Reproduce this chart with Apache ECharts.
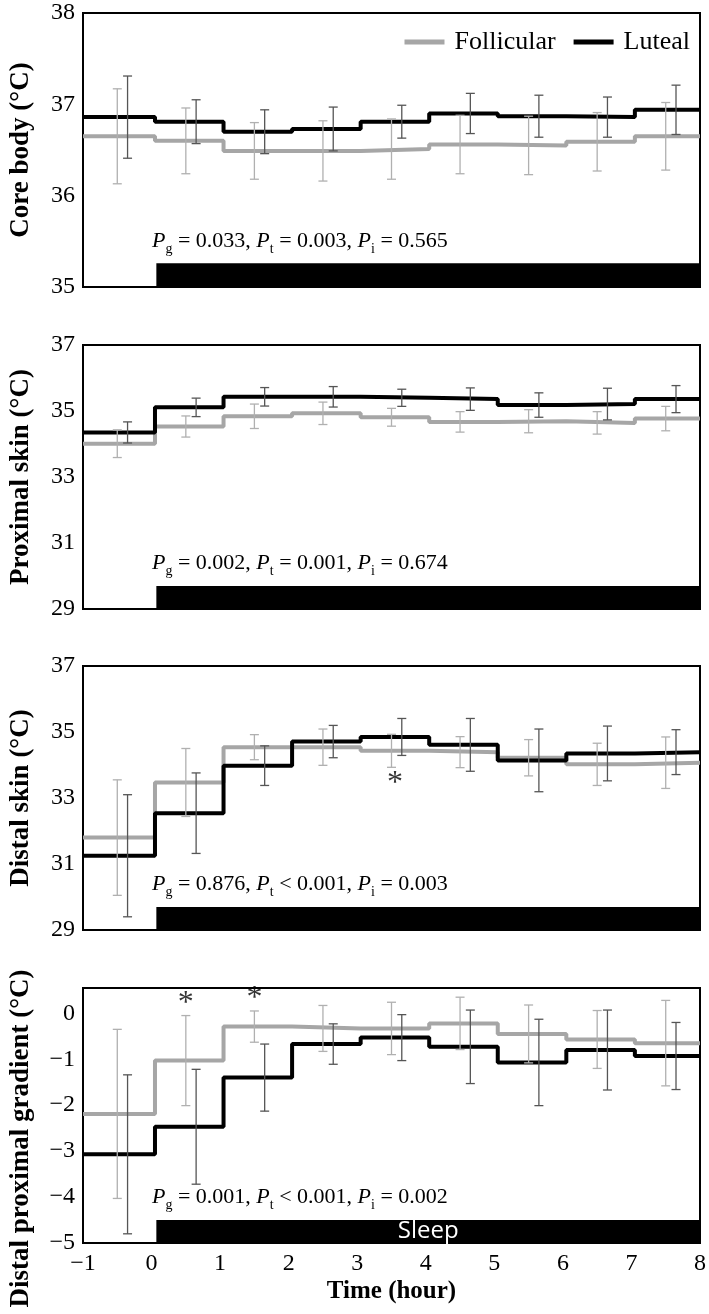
<!DOCTYPE html>
<html>
<head>
<meta charset="utf-8">
<script src="https://cdn.jsdelivr.net/npm/echarts@6/dist/echarts.min.js"></script>
<style>
html,body{margin:0;padding:0;background:#fff;}
#chart{width:709px;height:1314px;}
</style>
</head>
<body>
<div id="chart"></div>
<script>
// ---- data ----
const seriesNames = ['Follicular', 'Luteal'];
const stepStarts = [-1, 0.05, 1.05, 2.05, 3.05, 4.05, 5.05, 6.05, 7.05];
const stepEnd = 8;
const follErrX = [-0.5, 0.5, 1.5, 2.5, 3.5, 4.5, 5.5, 6.5, 7.5];
const lutErrX = [-0.35, 0.65, 1.65, 2.65, 3.65, 4.65, 5.65, 6.65, 7.65];
const sleepStart = 0.07;
const sleepEnd = 8;

const panelNames = ['Core body (°C)', 'Proximal skin (°C)', 'Distal skin (°C)', 'Distal proximal gradient (°C)'];
const yMin = [35, 29, 29, -5];
const yMax = [38, 37, 37, 0.55];
const yInterval = [1, 2, 2, 1];
const sleepTop = [35.26, 29.7, 29.7, -4.5];

const coreFol = [36.65, 36.60, 36.49, 36.49, 36.51, 36.56, 36.55, 36.59, 36.65];
const coreFolErr = [0.52, 0.36, 0.31, 0.33, 0.33, 0.32, 0.32, 0.32, 0.37];
const coreLut = [36.86, 36.81, 36.70, 36.73, 36.81, 36.90, 36.87, 36.86, 36.94];
const coreLutErr = [0.45, 0.24, 0.24, 0.24, 0.18, 0.22, 0.23, 0.22, 0.27];

const proxFol = [34.01, 34.53, 34.84, 34.93, 34.81, 34.67, 34.69, 34.64, 34.77];
const proxFolErr = [0.42, 0.32, 0.37, 0.34, 0.27, 0.31, 0.35, 0.34, 0.37];
const proxLut = [34.35, 35.11, 35.43, 35.43, 35.40, 35.36, 35.18, 35.21, 35.36];
const proxLutErr = [0.32, 0.28, 0.28, 0.31, 0.26, 0.34, 0.37, 0.48, 0.41];

const distFol = [31.80, 33.47, 34.54, 34.54, 34.43, 34.39, 34.22, 34.02, 34.07];
const distFolErr = [1.75, 1.03, 0.38, 0.55, 0.50, 0.47, 0.55, 0.64, 0.78];
const distLut = [31.25, 32.54, 33.98, 34.71, 34.85, 34.61, 34.14, 34.35, 34.39];
const distLutErr = [1.85, 1.22, 0.60, 0.49, 0.56, 0.80, 0.95, 0.83, 0.68];

const gradFol = [-2.19, -1.03, -0.29, -0.33, -0.33, -0.22, -0.45, -0.57, -0.65];
const gradFolErr = [1.84, 0.98, 0.34, 0.50, 0.57, 0.57, 0.63, 0.63, 0.93];
const gradLut = [-3.07, -2.47, -1.40, -0.67, -0.53, -0.73, -1.07, -0.80, -0.93];
const gradLutErr = [1.73, 1.25, 0.73, 0.44, 0.50, 0.80, 0.94, 0.87, 0.73];

const pTexts = [
  ['g', '= 0.033, ', 't', '= 0.003, ', 'i', '= 0.565'],
  ['g', '= 0.002, ', 't', '= 0.001, ', 'i', '= 0.674'],
  ['g', '= 0.876, ', 't', '< 0.001, ', 'i', '= 0.003'],
  ['g', '= 0.001, ', 't', '< 0.001, ', 'i', '= 0.002']
];
const asterisks = [[], [], [[3.55, 33.45]], [[0.5, 0.2], [1.5, 0.31]]];
const sleepLabel = ['', '', '', 'Sleep'];

const folData = [coreFol, proxFol, distFol, gradFol];
const folErr = [coreFolErr, proxFolErr, distFolErr, gradFolErr];
const lutData = [coreLut, proxLut, distLut, gradLut];
const lutErr = [coreLutErr, proxLutErr, distLutErr, gradLutErr];

// ---- layout ----
const gridTops = [13, 345, 666, 988];
const gridHeights = [274, 264, 264, 255];
const SERIF = '"Liberation Serif", "Times New Roman", serif';
const FOL_COLOR = '#a6a6a6';
const FOL_ERR = '#b0b0b0';
const LUT_ERR = '#555555';

function fmtMinus(v) {
  if (Math.abs(v - Math.round(v)) > 1e-6) return '';
  return String(Math.round(v)).replace('-', '\u2212');
}

function stepData(vals) {
  const d = stepStarts.map((x, i) => [x, vals[i]]);
  d.push([stepEnd, vals[vals.length - 1]]);
  return d;
}
function errData(xs, vals, errs) {
  return xs.map((x, i) => [x, vals[i] - errs[i], vals[i] + errs[i]]);
}
function errRender(color) {
  return function (params, api) {
    const x = api.value(0), lo = api.value(1), hi = api.value(2);
    const p1 = api.coord([x, hi]);
    const p2 = api.coord([x, lo]);
    const w = 4.5;
    const st = { stroke: color, lineWidth: 1.3 };
    return {
      type: 'group',
      children: [
        { type: 'line', shape: { x1: p1[0], y1: p1[1], x2: p2[0], y2: p2[1] }, style: st },
        { type: 'line', shape: { x1: p1[0] - w, y1: p1[1], x2: p1[0] + w, y2: p1[1] }, style: st },
        { type: 'line', shape: { x1: p2[0] - w, y1: p2[1], x2: p2[0] + w, y2: p2[1] }, style: st }
      ]
    };
  };
}

const grids = [], xAxes = [], yAxes = [], series = [], graphics = [];
for (let k = 0; k < 4; k++) {
  grids.push({
    left: 83, right: 9, top: gridTops[k], height: gridHeights[k],
    containLabel: false, outerBoundsMode: 'none',
    show: true, borderColor: '#000', borderWidth: 2, backgroundColor: 'transparent'
  });
  const last = k === 3;
  xAxes.push({
    type: 'value', gridIndex: k, min: -1, max: 8, interval: 1,
    axisLine: { show: false }, axisTick: { show: false }, splitLine: { show: false },
    axisLabel: { show: last, formatter: fmtMinus, fontFamily: SERIF, fontSize: 24, color: '#000', margin: 9 },
    name: last ? 'Time (hour)' : '', nameLocation: 'middle', nameGap: 36,
    nameTextStyle: { fontFamily: SERIF, fontSize: 25, fontWeight: 'bold', color: '#000' }
  });
  yAxes.push({
    type: 'value', gridIndex: k, min: yMin[k], max: yMax[k], interval: yInterval[k],
    axisLine: { show: false }, axisTick: { show: false }, splitLine: { show: false },
    axisLabel: { formatter: fmtMinus, fontFamily: SERIF, fontSize: 24, color: '#000', margin: 8 },
    name: panelNames[k], nameLocation: 'middle', nameGap: 48, nameRotate: 90,
    nameTextStyle: {
      fontFamily: SERIF, fontSize: 27, fontWeight: 'bold', color: '#000',
      padding: k === 3 ? [0, 46, 0, 0] : 0
    }
  });
  series.push({
    name: seriesNames[0], type: 'line', xAxisIndex: k, yAxisIndex: k, step: 'end',
    data: stepData(folData[k]), showSymbol: false, symbol: 'none',
    lineStyle: { color: FOL_COLOR, width: 4 }, itemStyle: { color: FOL_COLOR }, z: 3,
    silent: true, animation: false
  });
  series.push({
    name: seriesNames[1], type: 'line', xAxisIndex: k, yAxisIndex: k, step: 'end',
    data: stepData(lutData[k]), showSymbol: false, symbol: 'none',
    lineStyle: { color: '#000', width: 4 }, itemStyle: { color: '#000' }, z: 4,
    silent: true, animation: false,
    markArea: {
      silent: true,
      itemStyle: { color: '#000', opacity: 1 },
      label: {
        show: true, position: 'inside', color: '#fff',
        fontFamily: '"Open Sans", "DejaVu Sans", sans-serif', fontSize: 24,
        formatter: sleepLabel[k]
      },
      data: [[{ xAxis: sleepStart, yAxis: yMin[k] }, { xAxis: sleepEnd, yAxis: sleepTop[k] }]]
    }
  });
  series.push({
    type: 'custom', xAxisIndex: k, yAxisIndex: k, renderItem: errRender(FOL_ERR),
    data: errData(follErrX, folData[k], folErr[k]), encode: { x: 0, y: [1, 2] }, z: 5,
    silent: true, animation: false
  });
  series.push({
    type: 'custom', xAxisIndex: k, yAxisIndex: k, renderItem: errRender(LUT_ERR),
    data: errData(lutErrX, lutData[k], lutErr[k]), encode: { x: 0, y: [1, 2] }, z: 6,
    silent: true, animation: false
  });
  if (asterisks[k].length) {
    series.push({
      type: 'scatter', xAxisIndex: k, yAxisIndex: k, data: asterisks[k], symbolSize: 1,
      itemStyle: { color: 'rgba(0,0,0,0)' }, silent: true, animation: false,
      label: { show: true, formatter: '*', position: 'inside', fontFamily: SERIF, fontSize: 32, color: '#000' }
    });
  }
  const p = pTexts[k];
  graphics.push({
    type: 'text', left: 152, top: gridTops[k] + gridHeights[k] - 60,
    style: {
      text: '{i|P}{s|' + p[0] + '}{n| ' + p[1] + '}{i|P}{s|' + p[2] + '}{n| ' + p[3] + '}{i|P}{s|' + p[4] + '}{n| ' + p[5] + '}',
      rich: {
        i: { fontFamily: SERIF, fontStyle: 'italic', fontSize: 22, color: '#000', lineHeight: 26 },
        n: { fontFamily: SERIF, fontSize: 22, color: '#000', lineHeight: 26 },
        s: { fontFamily: SERIF, fontSize: 14, color: '#000', lineHeight: 26, padding: [15, 0, 0, 0] }
      }
    }
  });
}

const chart = echarts.init(document.getElementById('chart'), null, { renderer: 'canvas' });
chart.setOption({
  animation: false,
  backgroundColor: '#fff',
  grid: grids,
  xAxis: xAxes,
  yAxis: yAxes,
  series: series,
  graphic: graphics,
  legend: {
    data: seriesNames, right: 14, top: 24, itemWidth: 40, itemHeight: 5, itemGap: 18,
    icon: 'rect',
    textStyle: { fontFamily: SERIF, fontSize: 26, color: '#000', padding: [0, 0, 0, 5] }
  }
});
</script>
</body>
</html>
